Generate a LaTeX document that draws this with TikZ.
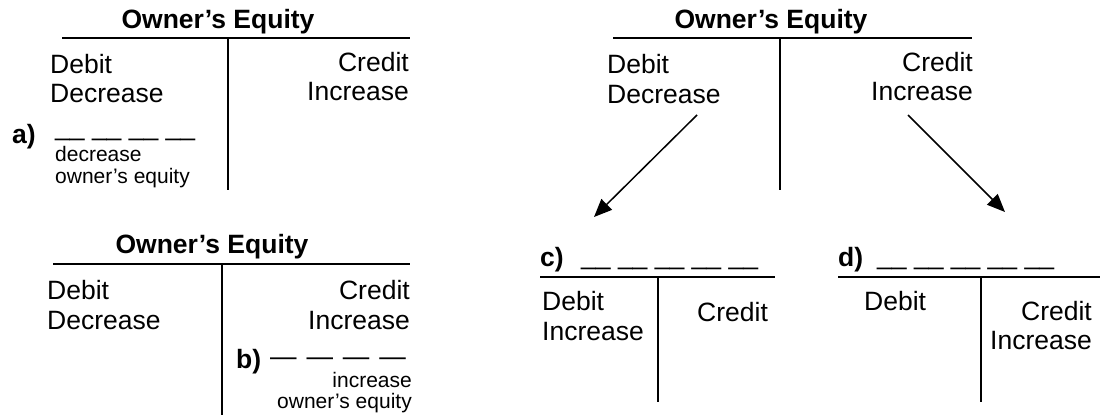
\documentclass[tikz,border=0pt]{standalone}
\usepackage{fontspec}
\setmainfont{Liberation Sans}
\usetikzlibrary{arrows.meta}
\begin{document}
\begin{tikzpicture}[x=1pt,y=-1pt,
  txt/.style={font=\fontsize{26.5}{30}\selectfont, inner sep=0pt},
  ttl/.style={font=\fontsize{26.5}{30}\selectfont\bfseries, inner sep=0pt, anchor=base},
  lbl/.style={font=\fontsize{26.5}{30}\selectfont\bfseries, inner sep=0pt, anchor=base west},
  small/.style={font=\fontsize{21}{24}\selectfont, inner sep=0pt},
  tline/.style={line width=2.8pt},
  arr/.style={line width=1.5pt, -{Triangle[length=18pt,width=15pt]}}]
\useasboundingbox (0,0) rectangle (1103,415);

% ---------- T account A (top left)
\node[ttl] (tA) at (218,28) {Owner’s Equity};
\coordinate (hA1) at (62,38); \coordinate (hA2) at (410,38);
\coordinate (vA1) at (228,38); \coordinate (vA2) at (228,190);
\draw[tline] (hA1) -- (hA2);
\draw[tline] (vA1) -- (vA2);
\node[txt, anchor=base west] (dA1) at (50,73) {Debit};
\node[txt, anchor=base west] (dA2) at (50,102) {Decrease};
\node[txt, anchor=base east] (cA1) at (409,71) {Credit};
\node[txt, anchor=base east] (cA2) at (409,100) {Increase};
\node[lbl] (la) at (12,143) {a)};
\node[txt, anchor=base west] (blA) at (55,135) {\_\_ \_\_ \_\_ \_\_};
\node[small, anchor=base west] (sA1) at (55,161) {decrease};
\node[small, anchor=base west] (sA2) at (55,183) {owner’s equity};

% ---------- T account B (bottom left)
\node[ttl] (tB) at (212,253) {Owner’s Equity};
\coordinate (hB1) at (53,264); \coordinate (hB2) at (410,264);
\coordinate (vB1) at (222,264); \coordinate (vB2) at (222,415);
\draw[tline] (hB1) -- (hB2);
\draw[tline] (vB1) -- (vB2);
\node[txt, anchor=base west] (dB1) at (47,299) {Debit};
\node[txt, anchor=base west] (dB2) at (47,329) {Decrease};
\node[txt, anchor=base east] (cB1) at (410,299) {Credit};
\node[txt, anchor=base east] (cB2) at (410,329) {Increase};
\node[lbl] (lb) at (236,368) {b)};
\node[txt, anchor=base west] (blB) at (270,365) {— \kern2.5pt— \kern2.5pt— \kern2.5pt—};
\node[small, anchor=base east] (sB1) at (412,387) {increase};
\node[small, anchor=base east] (sB2) at (412,408) {owner’s equity};

% ---------- T account C (top right)
\node[ttl] (tC) at (771,28) {Owner’s Equity};
\coordinate (hC1) at (613,38); \coordinate (hC2) at (972,38);
\coordinate (vC1) at (780,38); \coordinate (vC2) at (780,190);
\draw[tline] (hC1) -- (hC2);
\draw[tline] (vC1) -- (vC2);
\node[txt, anchor=base west] (dC1) at (607,73) {Debit};
\node[txt, anchor=base west] (dC2) at (607,103) {Decrease};
\node[txt, anchor=base east] (cC1) at (973,71) {Credit};
\node[txt, anchor=base east] (cC2) at (973,100) {Increase};

% ---------- T account D (c)
\node[lbl] (lc) at (540,266) {c)};
\node[txt, anchor=base west] (blC) at (581,264) {\_\_ \_\_ \_\_ \_\_ \_\_};
\coordinate (hD1) at (540,277); \coordinate (hD2) at (775,277);
\coordinate (vD1) at (658,277); \coordinate (vD2) at (658,402);
\draw[tline] (hD1) -- (hD2);
\draw[tline] (vD1) -- (vD2);
\node[txt, anchor=base west] (dD1) at (542,310) {Debit};
\node[txt, anchor=base west] (dD2) at (542,340) {Increase};
\node[txt, anchor=base west] (cD1) at (697,321) {Credit};

% ---------- T account E (d)
\node[lbl] (ld) at (838,266) {d)};
\node[txt, anchor=base west] (blD) at (877,264) {\_\_ \_\_ \_\_ \_\_ \_\_};
\coordinate (hE1) at (838,277); \coordinate (hE2) at (1100,277);
\coordinate (vE1) at (981,277); \coordinate (vE2) at (981,402);
\draw[tline] (hE1) -- (hE2);
\draw[tline] (vE1) -- (vE2);
\node[txt, anchor=base west] (dE1) at (864,310) {Debit};
\node[txt, anchor=base east] (cE1) at (1092,320) {Credit};
\node[txt, anchor=base east] (cE2) at (1092,349) {Increase};

% ---------- arrows
\coordinate (a1s) at (697,115); \coordinate (a1e) at (594,217);
\coordinate (a2s) at (908,115); \coordinate (a2e) at (1005,212);
\draw[arr] (a1s) -- (a1e);
\draw[arr] (a2s) -- (a2e);
\end{tikzpicture}
\end{document}
